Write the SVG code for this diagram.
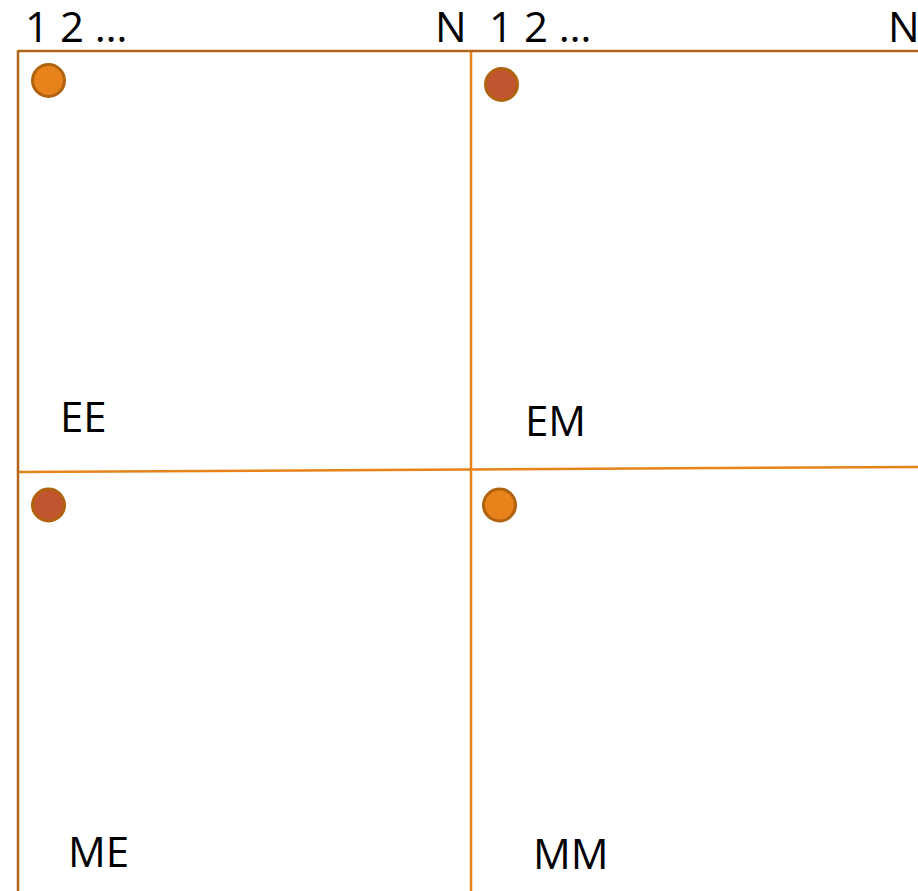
<svg xmlns="http://www.w3.org/2000/svg" width="918" height="891" viewBox="0 0 918 891">
<style>
.t{font-family:"Open Sans","Noto Sans","Liberation Sans",sans-serif;font-size:42px;fill:#000}
.frame{stroke:#B0651A;stroke-width:2.5;fill:none}
.grid{stroke:#E8821A;stroke-width:2.5;fill:none}
.dotA{fill:#E8821A;stroke:#B0620F;stroke-width:3}
.dotB{fill:#C0552F;stroke:#B0620F;stroke-width:3}
</style>
<rect width="918" height="891" fill="#fff"/>
<g id="connectors">
<line class="grid" x1="471" y1="51" x2="471" y2="891"/>
<line class="grid" x1="18" y1="472" x2="918" y2="467"/>
<line class="frame" x1="18" y1="51" x2="918" y2="51"/>
<line class="frame" x1="18" y1="50" x2="18" y2="891"/>
</g>
<g id="header">
<text class="t" x="25" y="42">1 2 …</text>
<text class="t" x="435" y="42">N</text>
<text class="t" x="489" y="42">1 2 …</text>
<text class="t" x="888" y="42">N</text>
</g>
<g id="EE">
<circle class="dotA" cx="48.5" cy="80.5" r="16"/>
<text class="t" x="60" y="432">EE</text>
</g>
<g id="EM">
<circle class="dotB" cx="501.5" cy="84.5" r="16"/>
<text class="t" x="525" y="436">EM</text>
</g>
<g id="ME">
<circle class="dotB" cx="48.5" cy="505" r="16"/>
<text class="t" x="68" y="867">ME</text>
</g>
<g id="MM">
<circle class="dotA" cx="499.5" cy="505" r="16"/>
<text class="t" x="533" y="869">MM</text>
</g>
</svg>
